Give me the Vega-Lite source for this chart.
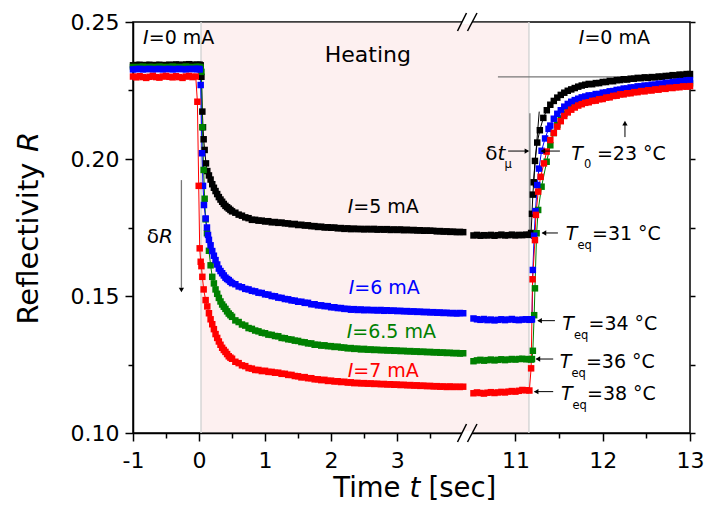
{
"$schema":"https://vega.github.io/schema/vega-lite/v6.json",
"width":557,"height":411,
"autosize":{"type":"none"},
"padding":{"left":133,"top":22,"right":16,"bottom":77},
"background":"white",
"config":{"font":"DejaVu Sans","view":{"stroke":"black","strokeWidth":1.5},
"axis":{"domainColor":"black","tickColor":"black","labelColor":"black","titleColor":"black","grid":false,"labelFont":"DejaVu Sans","titleFont":"DejaVu Sans","domainWidth":1.5,"tickWidth":1.5,"titleFontWeight":"normal","labelFlush":false,"labelOverlap":false,"labelBound":false},
"text":{"font":"DejaVu Sans"}},
"datasets":{
"hatch":[{"t":0.03,"t2":11.155,"R":0.1,"R2":0.25}],
"edges":[{"t":0.03,"t2":0.03,"R":0.1,"R2":0.25},{"t":11.155,"t2":11.155,"R":0.1,"R2":0.25}],
"gray":[{"t":-0.267,"t2":-0.267,"R":0.1923,"R2":0.153},{"t":11.166,"t2":11.166,"R":0.2167,"R2":0.1741},{"t":10.8,"t2":13,"R":0.23,"R2":0.23}],
"black":[{"t":10.917,"t2":11.14,"R":0.2029,"R2":0.2029},{"t":11.3,"t2":11.51,"R":0.2029,"R2":0.2029},{"t":12.255,"t2":12.255,"R":0.208,"R2":0.2125},{"t":11.31,"t2":11.487,"R":0.173,"R2":0.173},{"t":11.26,"t2":11.453,"R":0.141,"R2":0.141},{"t":11.24,"t2":11.433,"R":0.127,"R2":0.127},{"t":11.22,"t2":11.433,"R":0.1151,"R2":0.1151},{"t":11.273,"t2":11.204,"R":0.2173,"R2":0.1899}],
"heads":[{"t":-0.267,"R":0.1522,"dir":"down"},{"t":11.132,"R":0.2029,"dir":"right"},{"t":11.315,"R":0.2029,"dir":"left"},{"t":12.255,"R":0.2131,"dir":"up"},{"t":11.327,"R":0.173,"dir":"left"},{"t":11.277,"R":0.141,"dir":"left"},{"t":11.258,"R":0.127,"dir":"left"},{"t":11.238,"R":0.1151,"dir":"left"}],
"brk":[{"t":4.2,"R":0.25},{"t":4.2,"R":0.1}],
"itR":[{"t":-0.762,"R":0.242,"txt":"I","k":"a"},{"t":11.791,"R":0.242,"txt":"I","k":"a"},{"t":2.336,"R":0.1802,"txt":"I","k":"a"},{"t":2.351,"R":0.1506,"txt":"I","k":"c"},{"t":2.32,"R":0.1348,"txt":"I","k":"b"},{"t":2.336,"R":0.1203,"txt":"I","k":"d"},{"t":11.774,"R":0.1996,"txt":"T","k":"a"},{"t":11.711,"R":0.1704,"txt":"T","k":"a"},{"t":11.671,"R":0.1376,"txt":"T","k":"a"},{"t":11.642,"R":0.1236,"txt":"T","k":"a"},{"t":11.654,"R":0.112,"txt":"T","k":"a"}],
"nL":[{"t":-0.762,"R":0.242,"txt":"=0 mA","k":"a"},{"t":11.791,"R":0.242,"txt":"=0 mA","k":"a"},{"t":2.336,"R":0.1802,"txt":"=5 mA","k":"a"},{"t":2.351,"R":0.1506,"txt":"=6 mA","k":"c"},{"t":2.32,"R":0.1348,"txt":"=6.5 mA","k":"b"},{"t":2.336,"R":0.1203,"txt":"=7 mA","k":"d"},{"t":11.934,"R":0.1996,"txt":"=23 °C","k":"a"},{"t":11.877,"R":0.1704,"txt":"=31 °C","k":"a"},{"t":11.837,"R":0.1376,"txt":"=34 °C","k":"a"},{"t":11.808,"R":0.1236,"txt":"=36 °C","k":"a"},{"t":11.82,"R":0.112,"txt":"=38 °C","k":"a"}],
"sub":[{"t":11.785,"R":0.1966,"txt":"0"},{"t":11.711,"R":0.1671,"txt":"eq"},{"t":11.671,"R":0.1343,"txt":"eq"},{"t":11.642,"R":0.1203,"txt":"eq"},{"t":11.654,"R":0.1088,"txt":"eq"},{"t":10.874,"R":0.1967,"txt":"μ"}],
"nR":[{"t":-0.608,"R":0.1692,"txt":"δ"},{"t":10.794,"R":0.1998,"txt":"δ"}],
"itL":[{"t":-0.608,"R":0.1692,"txt":"R"},{"t":10.794,"R":0.1998,"txt":"t"}],
"heat":[{"t":1.903,"R":0.2354,"txt":"Heating"}],
"series":[
{"t":-1.0,"a":0.2342,"b":0.2336,"c":0.2327,"d":0.2301},
{"t":-0.95,"a":0.2343,"b":0.2335,"c":0.2328,"d":0.2298},
{"t":-0.9,"a":0.2344,"b":0.2336,"c":0.2329,"d":0.2302},
{"t":-0.85,"a":0.2342,"b":0.2337,"c":0.2327,"d":0.2299},
{"t":-0.8,"a":0.2343,"b":0.2335,"c":0.2328,"d":0.2296},
{"t":-0.75,"a":0.2344,"b":0.2336,"c":0.2329,"d":0.23},
{"t":-0.7,"a":0.2342,"b":0.2336,"c":0.2327,"d":0.2303},
{"t":-0.65,"a":0.2343,"b":0.2335,"c":0.2328,"d":0.2299},
{"t":-0.6,"a":0.2344,"b":0.2337,"c":0.2329,"d":0.2297},
{"t":-0.55,"a":0.2342,"b":0.2336,"c":0.2327,"d":0.2301},
{"t":-0.5,"a":0.2343,"b":0.2335,"c":0.2328,"d":0.2303},
{"t":-0.45,"a":0.2344,"b":0.2336,"c":0.2329,"d":0.23},
{"t":-0.4,"a":0.2343,"b":0.2337,"c":0.2327,"d":0.2298},
{"t":-0.35,"a":0.2345,"b":0.2336,"c":0.2328,"d":0.2302},
{"t":-0.3,"a":0.2344,"b":0.2335,"c":0.2329,"d":0.2299},
{"t":-0.25,"a":0.2343,"b":0.2336,"c":0.2328,"d":0.2296},
{"t":-0.2,"a":0.2345,"b":0.2337,"c":0.2327,"d":0.2301},
{"t":-0.15,"a":0.2346,"b":0.2336,"c":0.2329,"d":0.2303},
{"t":-0.1,"a":0.2344,"b":0.2335,"c":0.2328,"d":0.2299},
{"t":-0.05,"a":0.2343,"b":0.2336,"c":0.2329,"d":0.2301},
{"t":-0.025,"a":0.2344,"b":0.2336,"c":0.2328,"d":0.2209},
{"t":-0.005,"a":0.2343,"b":0.2335,"c":0.2329,"d":0.1902},
{"t":0.01,"a":0.2344,"b":0.2336,"c":0.2327,"d":0.1674},
{"t":0.025,"a":0.2342,"b":0.2334,"c":0.227,"d":0.1625},
{"t":0.036,"a":0.23,"b":0.2318,"d":0.1609},
{"t":0.045,"c":0.2021},
{"t":0.05,"a":0.2173,"b":0.2116,"d":0.157},
{"t":0.06,"a":0.2116,"c":0.1902},
{"t":0.07,"a":0.2072,"b":0.196,"d":0.1524},
{"t":0.075,"c":0.1832},
{"t":0.085,"a":0.2033,"b":0.1855},
{"t":0.1,"b":0.178,"c":0.1783,"d":0.1485},
{"t":0.105,"a":0.1984},
{"t":0.12,"b":0.1729,"c":0.175},
{"t":0.125,"a":0.1956,"d":0.1462},
{"t":0.136,"c":0.1723},
{"t":0.15,"a":0.194,"b":0.1665,"c":0.1705,"d":0.1437},
{"t":0.175,"a":0.1925,"b":0.1612,"c":0.1685,"d":0.1415},
{"t":0.2,"a":0.1908,"b":0.157,"c":0.1664,"d":0.1397},
{"t":0.225,"a":0.1895,"b":0.1546,"c":0.1647,"d":0.1379},
{"t":0.25,"a":0.1883,"b":0.1524,"c":0.1631,"d":0.1361},
{"t":0.275,"a":0.1872,"b":0.1508,"c":0.1615,"d":0.1347},
{"t":0.3,"a":0.1861,"b":0.1493,"c":0.16,"d":0.1334},
{"t":0.325,"a":0.1852,"b":0.148,"c":0.1591,"d":0.1322},
{"t":0.35,"a":0.1844,"b":0.1469,"c":0.1583,"d":0.1311},
{"t":0.375,"a":0.1836,"b":0.1461,"c":0.1575,"d":0.1303},
{"t":0.4,"a":0.1829,"b":0.1453,"c":0.1567,"d":0.1296},
{"t":0.425,"a":0.1824,"b":0.1444,"c":0.1562,"d":0.1288},
{"t":0.45,"a":0.1819,"b":0.1436,"c":0.1558,"d":0.128},
{"t":0.475,"a":0.1814,"b":0.143,"c":0.1552,"d":0.1275},
{"t":0.5,"a":0.1809,"b":0.1424,"c":0.1547,"d":0.1271},
{"t":0.55,"a":0.1804,"b":0.1411,"c":0.1543,"d":0.126},
{"t":0.6,"a":0.1797,"b":0.1405,"c":0.1535,"d":0.1255},
{"t":0.65,"a":0.1793,"b":0.1396,"c":0.1532,"d":0.1247},
{"t":0.7,"a":0.1787,"b":0.1392,"c":0.1526,"d":0.1244},
{"t":0.75,"a":0.1784,"b":0.1383,"c":0.1524,"d":0.1237},
{"t":0.8,"a":0.1778,"b":0.138,"c":0.1519,"d":0.1235},
{"t":0.85,"a":0.1778,"b":0.1374,"c":0.1517,"d":0.123},
{"t":0.9,"a":0.1775,"b":0.1371,"c":0.1512,"d":0.123},
{"t":0.95,"a":0.1775,"b":0.1366,"c":0.1511,"d":0.1226},
{"t":1.0,"a":0.1772,"b":0.1364,"c":0.1506,"d":0.1227},
{"t":1.05,"a":0.1773,"b":0.1359,"c":0.1505,"d":0.1223},
{"t":1.1,"a":0.1769,"b":0.1358,"c":0.15,"d":0.1223},
{"t":1.15,"a":0.177,"b":0.1354,"c":0.1499,"d":0.122},
{"t":1.2,"a":0.1767,"b":0.1353,"c":0.1494,"d":0.122},
{"t":1.25,"a":0.1768,"b":0.1347,"c":0.1493,"d":0.1216},
{"t":1.3,"a":0.1765,"b":0.1346,"c":0.1489,"d":0.1216},
{"t":1.35,"a":0.1765,"b":0.1342,"c":0.1488,"d":0.1212},
{"t":1.4,"a":0.1762,"b":0.1341,"c":0.1484,"d":0.1212},
{"t":1.45,"a":0.1763,"b":0.1337,"c":0.1483,"d":0.1208},
{"t":1.5,"a":0.1759,"b":0.1336,"c":0.1479,"d":0.1207},
{"t":1.55,"a":0.176,"b":0.1332,"c":0.1479,"d":0.1203},
{"t":1.6,"a":0.1757,"b":0.1331,"c":0.1475,"d":0.1204},
{"t":1.65,"a":0.1758,"b":0.1327,"c":0.1475,"d":0.12},
{"t":1.7,"a":0.1755,"b":0.1327,"c":0.147,"d":0.12},
{"t":1.75,"a":0.1755,"b":0.1322,"c":0.147,"d":0.1196},
{"t":1.8,"a":0.1752,"b":0.1322,"c":0.1466,"d":0.1196},
{"t":1.85,"a":0.1753,"b":0.1319,"c":0.1466,"d":0.1193},
{"t":1.9,"a":0.175,"b":0.132,"c":0.1463,"d":0.1194},
{"t":1.95,"a":0.1751,"b":0.1317,"c":0.1463,"d":0.119},
{"t":2.0,"a":0.1749,"b":0.1317,"c":0.1459,"d":0.1191},
{"t":2.05,"a":0.175,"b":0.1314,"c":0.1459,"d":0.1188},
{"t":2.1,"a":0.1747,"b":0.1315,"c":0.1456,"d":0.1189},
{"t":2.15,"a":0.1748,"b":0.1312,"c":0.1456,"d":0.1186},
{"t":2.2,"a":0.1745,"b":0.1312,"c":0.1453,"d":0.1187},
{"t":2.25,"a":0.1747,"b":0.1309,"c":0.1453,"d":0.1184},
{"t":2.3,"a":0.1744,"b":0.131,"c":0.145,"d":0.1185},
{"t":2.35,"a":0.1746,"b":0.1307,"c":0.1452,"d":0.1182},
{"t":2.4,"a":0.1744,"b":0.1308,"c":0.1449,"d":0.1183},
{"t":2.45,"a":0.1745,"b":0.1305,"c":0.1451,"d":0.1181},
{"t":2.5,"a":0.1743,"b":0.1307,"c":0.1448,"d":0.1182},
{"t":2.55,"a":0.1745,"b":0.1304,"c":0.145,"d":0.118},
{"t":2.6,"a":0.1743,"b":0.1305,"c":0.1448,"d":0.1181},
{"t":2.65,"a":0.1745,"b":0.1303,"c":0.1449,"d":0.1179},
{"t":2.7,"a":0.1742,"b":0.1304,"c":0.1447,"d":0.118},
{"t":2.75,"a":0.1744,"b":0.1302,"c":0.1449,"d":0.1178},
{"t":2.8,"a":0.1742,"b":0.1303,"c":0.1446,"d":0.1179},
{"t":2.85,"a":0.1744,"b":0.1301,"c":0.1448,"d":0.1177},
{"t":2.9,"a":0.1741,"b":0.1302,"c":0.1446,"d":0.1178},
{"t":2.95,"a":0.1743,"b":0.13,"c":0.1447,"d":0.1176},
{"t":3.0,"a":0.1741,"b":0.1301,"c":0.1445,"d":0.1177},
{"t":3.05,"a":0.1743,"b":0.1299,"c":0.1446,"d":0.1175},
{"t":3.1,"a":0.174,"b":0.13,"c":0.1444,"d":0.1176},
{"t":3.15,"a":0.1742,"b":0.1298,"c":0.1445,"d":0.1174},
{"t":3.2,"a":0.174,"b":0.1299,"c":0.1443,"d":0.1175},
{"t":3.25,"a":0.1741,"b":0.1297,"c":0.1444,"d":0.1173},
{"t":3.3,"a":0.1739,"b":0.1298,"c":0.1442,"d":0.1174},
{"t":3.35,"a":0.174,"b":0.1296,"c":0.1443,"d":0.1172},
{"t":3.4,"a":0.1738,"b":0.1297,"c":0.1441,"d":0.1173},
{"t":3.45,"a":0.1739,"b":0.1295,"c":0.1442,"d":0.1171},
{"t":3.5,"a":0.1738,"b":0.1296,"c":0.144,"d":0.1172},
{"t":3.55,"a":0.1738,"b":0.1294,"c":0.1441,"d":0.117},
{"t":3.6,"a":0.1736,"b":0.1295,"c":0.1439,"d":0.1171},
{"t":3.65,"a":0.1737,"b":0.1293,"c":0.144,"d":0.1169},
{"t":3.7,"a":0.1735,"b":0.1294,"c":0.1438,"d":0.117},
{"t":3.75,"a":0.1736,"b":0.1292,"c":0.1439,"d":0.1168},
{"t":3.8,"a":0.1734,"b":0.1293,"c":0.1437,"d":0.117},
{"t":3.85,"a":0.1735,"b":0.1291,"c":0.1438,"d":0.1168},
{"t":3.9,"a":0.1733,"b":0.1292,"c":0.1436,"d":0.1169},
{"t":3.95,"a":0.1734,"b":0.129,"c":0.1438,"d":0.1168},
{"t":4.0,"a":0.1733,"b":0.1291,"c":0.1437,"d":0.1169},
{"t":10.52,"a":0.1721,"b":0.1262,"c":0.1418,"d":0.1145},
{"t":10.56,"a":0.1723,"b":0.1265,"c":0.1415,"d":0.1148},
{"t":10.6,"a":0.172,"b":0.1267,"c":0.1413,"d":0.1146},
{"t":10.64,"a":0.1722,"b":0.1264,"c":0.1416,"d":0.1144},
{"t":10.68,"a":0.1721,"b":0.1266,"c":0.1412,"d":0.1147},
{"t":10.72,"a":0.1723,"b":0.1268,"c":0.1414,"d":0.1149},
{"t":10.76,"a":0.172,"b":0.1265,"c":0.1411,"d":0.1146},
{"t":10.8,"a":0.1722,"b":0.1267,"c":0.1413,"d":0.1148},
{"t":10.84,"a":0.1724,"b":0.1269,"c":0.1415,"d":0.115},
{"t":10.88,"a":0.1721,"b":0.1266,"c":0.1412,"d":0.1148},
{"t":10.92,"a":0.1722,"b":0.1268,"c":0.1414,"d":0.1151},
{"t":10.96,"a":0.1724,"b":0.127,"c":0.1416,"d":0.1153},
{"t":11.0,"a":0.1721,"b":0.1268,"c":0.1413,"d":0.1151},
{"t":11.04,"a":0.1723,"b":0.127,"c":0.1412,"d":0.1154},
{"t":11.08,"a":0.1722,"b":0.1271,"c":0.1414,"d":0.1157},
{"t":11.12,"a":0.1724,"b":0.1269,"c":0.1415,"d":0.1156},
{"t":11.16,"a":0.1723,"b":0.127,"c":0.1413,"d":0.1155},
{"t":11.18,"a":0.173,"b":0.1268,"c":0.1414,"d":0.1236},
{"t":11.19,"a":0.18,"b":0.127,"c":0.1415},
{"t":11.197,"d":0.1561},
{"t":11.2,"a":0.187,"b":0.13,"c":0.1595},
{"t":11.21,"a":0.1915},
{"t":11.215,"b":0.143,"c":0.172},
{"t":11.224,"a":0.1993,"b":0.1528,"d":0.1704},
{"t":11.23,"c":0.181},
{"t":11.235,"d":0.1796},
{"t":11.243,"b":0.1729},
{"t":11.25,"a":0.206,"c":0.1905},
{"t":11.261,"b":0.1814,"d":0.1881},
{"t":11.27,"c":0.1965},
{"t":11.28,"a":0.2105},
{"t":11.289,"d":0.1935},
{"t":11.3,"b":0.1899,"c":0.203},
{"t":11.32,"a":0.215},
{"t":11.327,"d":0.1984},
{"t":11.34,"c":0.2075},
{"t":11.358,"b":0.199,"d":0.2027},
{"t":11.36,"a":0.2178},
{"t":11.38,"c":0.211},
{"t":11.4,"a":0.2198,"b":0.205,"c":0.2122,"d":0.2069},
{"t":11.44,"a":0.2212,"b":0.2095,"c":0.2147,"d":0.2095},
{"t":11.48,"a":0.2224,"b":0.2125,"c":0.2165,"d":0.2118},
{"t":11.52,"a":0.2234,"b":0.2148,"c":0.2178,"d":0.2138},
{"t":11.56,"a":0.2242,"b":0.2165,"c":0.2191,"d":0.2157},
{"t":11.6,"a":0.2249,"b":0.218,"c":0.2201,"d":0.217},
{"t":11.64,"a":0.2254,"b":0.219,"c":0.2209,"d":0.218},
{"t":11.68,"a":0.2259,"b":0.2198,"c":0.2215,"d":0.2188},
{"t":11.72,"a":0.2264,"b":0.2204,"c":0.222,"d":0.2195},
{"t":11.76,"a":0.2268,"b":0.2208,"c":0.2225,"d":0.22},
{"t":11.8,"a":0.2271,"b":0.2211,"c":0.2228,"d":0.2205},
{"t":11.84,"a":0.2274,"b":0.2214,"c":0.2232,"d":0.2207},
{"t":11.88,"a":0.2273,"b":0.2219,"c":0.2232,"d":0.2212},
{"t":11.92,"a":0.2277,"b":0.222,"c":0.2237,"d":0.2213},
{"t":11.96,"a":0.2277,"b":0.2226,"c":0.2237,"d":0.2218},
{"t":12.0,"a":0.2281,"b":0.2227,"c":0.2242,"d":0.2219},
{"t":12.04,"a":0.2281,"b":0.2231,"c":0.2243,"d":0.2224},
{"t":12.08,"a":0.2285,"b":0.2232,"c":0.2247,"d":0.2225},
{"t":12.12,"a":0.2284,"b":0.2236,"c":0.2248,"d":0.223},
{"t":12.16,"a":0.2288,"b":0.2237,"c":0.2252,"d":0.2231},
{"t":12.2,"a":0.2288,"b":0.2241,"c":0.2253,"d":0.2236},
{"t":12.24,"a":0.2291,"b":0.2241,"c":0.2257,"d":0.2236},
{"t":12.28,"a":0.229,"b":0.2245,"c":0.2257,"d":0.224},
{"t":12.32,"a":0.2293,"b":0.2245,"c":0.2261,"d":0.224},
{"t":12.36,"a":0.2293,"b":0.2249,"c":0.2261,"d":0.2244},
{"t":12.4,"a":0.2296,"b":0.2249,"c":0.2265,"d":0.2244},
{"t":12.44,"a":0.2295,"b":0.2253,"c":0.2265,"d":0.2248},
{"t":12.48,"a":0.2298,"b":0.2253,"c":0.2268,"d":0.2247},
{"t":12.52,"a":0.2296,"b":0.2256,"c":0.2268,"d":0.2251},
{"t":12.56,"a":0.2299,"b":0.2256,"c":0.2271,"d":0.225},
{"t":12.6,"a":0.2298,"b":0.226,"c":0.2271,"d":0.2254},
{"t":12.64,"a":0.2301,"b":0.226,"c":0.2275,"d":0.2253},
{"t":12.68,"a":0.23,"b":0.2264,"c":0.2274,"d":0.2257},
{"t":12.72,"a":0.2303,"b":0.2263,"c":0.2278,"d":0.2256},
{"t":12.76,"a":0.2303,"b":0.2267,"c":0.2277,"d":0.226},
{"t":12.8,"a":0.2306,"b":0.2267,"c":0.2281,"d":0.2259},
{"t":12.84,"a":0.2305,"b":0.2271,"c":0.2281,"d":0.2262},
{"t":12.88,"a":0.2308,"b":0.227,"c":0.2284,"d":0.2262},
{"t":12.92,"a":0.2307,"b":0.2274,"c":0.2284,"d":0.2265},
{"t":12.96,"a":0.231,"b":0.2273,"c":0.2287,"d":0.2264},
{"t":13.0,"a":0.231,"b":0.2276,"c":0.2288,"d":0.2266}
]},
"encoding":{
"x":{"field":"t","type":"quantitative","scale":{"domain":[-1,4.05,10.44,13],"range":[0,333.5,333.5,557],"nice":false,"zero":false},"axis":null},
"y":{"field":"R","type":"quantitative","scale":{"domain":[0.1,0.25],"nice":false,"zero":false},"axis":null}
},
"layer":[
{"data":{"name":"hatch"},"mark":{"type":"rect","fill":"#fdf0f0","yOffset":-0.75,"y2Offset":0.75},
"encoding":{
"x":{"field":"t","type":"quantitative","axis":{"orient":"bottom","values":[-1,0,1,2,3,11,12,13],"labelExpr":"replace(datum.label,'\u2212','-')","tickSize":8,"labelPadding":9,"labelFontSize":22,"title":"Time","titleFontSize":27.5,"titleX":267,"titleY":63,"titleAlign":"right","titleBaseline":"alphabetic","titleAngle":0}},
"x2":{"field":"t2"},
"y":{"field":"R","type":"quantitative","axis":{"orient":"left","values":[0.1,0.15,0.2,0.25],"format":".2f","tickSize":8,"labelPadding":6,"labelFontSize":22,"title":"Reflectivity","titleFontSize":29,"titleAngle":-90,"titleX":-96,"titleY":302,"titleAlign":"left","titleBaseline":"alphabetic"}},
"y2":{"field":"R2"}}},
{"data":{"name":"hatch"},"mark":{"type":"rect","opacity":0},
"encoding":{
"x":{"field":"t","type":"quantitative","axis":{"orient":"bottom","values":[-0.5,0.5,1.5,2.5,3.5,11.5,12.5],"tickSize":5,"labels":false,"domain":false,"title":"t","titleFontStyle":"italic","titleFontSize":27.5,"titleX":276,"titleY":63,"titleAlign":"left","titleBaseline":"alphabetic","titleAngle":0}},
"x2":{"field":"t2"},
"y":{"field":"R","type":"quantitative","axis":{"orient":"left","values":[0.125,0.175,0.225],"tickSize":5,"labels":false,"domain":false,"title":"R","titleFontStyle":"italic","titleFontSize":29,"titleAngle":-90,"titleX":-96,"titleY":129.6,"titleAlign":"left","titleBaseline":"alphabetic"}},
"y2":{"field":"R2"}}},
{"data":{"name":"hatch"},"mark":{"type":"rect","opacity":0},
"encoding":{
"x":{"field":"t","type":"quantitative","axis":{"orient":"bottom","ticks":false,"labels":false,"domain":false,"title":"[sec]","titleFontSize":27.5,"titleX":295,"titleY":63,"titleAlign":"left","titleBaseline":"alphabetic","titleAngle":0}},
"x2":{"field":"t2"},
"y":{"field":"R","type":"quantitative","axis":{"orient":"right","values":[0.1,0.125,0.15,0.175,0.2,0.225,0.25],"tickSize":5,"labels":false,"domain":false,"title":null}},
"y2":{"field":"R2"}}},
{"data":{"name":"edges"},"mark":{"type":"rule","color":"#d6d6d6","strokeWidth":1.5},
"encoding":{"x2":{"field":"t2"},"y2":{"field":"R2"}}},
{"data":{"name":"gray"},"mark":{"type":"rule","color":"#777777","strokeWidth":1.3},
"encoding":{"x2":{"field":"t2"},"y2":{"field":"R2"}}},
{"data":{"name":"series"},"transform":[{"fold":["a","b","c","d"],"as":["s","R"]},{"filter":"isValid(datum.R)"},{"filter":"datum.t < 7"}],
"mark":{"type":"line","strokeWidth":1},
"encoding":{"color":{"field":"s","type":"nominal","scale":{"domain":["a","b","c","d"],"range":["#000000","#008000","#0000ff","#ff0000"]},"legend":null}}},
{"data":{"name":"series"},"transform":[{"fold":["a","b","c","d"],"as":["s","R"]},{"filter":"isValid(datum.R)"},{"filter":"datum.t > 7"}],
"mark":{"type":"line","strokeWidth":1},
"encoding":{"color":{"field":"s","type":"nominal","legend":null}}},
{"data":{"name":"series"},"transform":[{"fold":["a","b","c","d"],"as":["s","R"]},{"filter":"isValid(datum.R)"}],
"mark":{"type":"point","shape":"square","filled":true,"size":42,"opacity":1},
"encoding":{"color":{"field":"s","type":"nominal","legend":null},"order":{"field":"s","type":"nominal"}}},
{"data":{"name":"black"},"mark":{"type":"rule","color":"black","strokeWidth":1},
"encoding":{"x2":{"field":"t2"},"y2":{"field":"R2"}}},
{"data":{"name":"heads"},"mark":{"type":"point","filled":true,"size":28,"color":"black","opacity":1},
"encoding":{"shape":{"field":"dir","type":"nominal","scale":{"domain":["up","down","left","right"],"range":["triangle-up","triangle-down","triangle-left","triangle-right"]},"legend":null}}},
{"data":{"name":"itR"},"mark":{"type":"text","font":"DejaVu Sans","fontStyle":"italic","fontSize":19,"align":"right","baseline":"alphabetic"},
"encoding":{"text":{"field":"txt"},"color":{"field":"k","type":"nominal","legend":null}}},
{"data":{"name":"nL"},"mark":{"type":"text","font":"DejaVu Sans","fontSize":19,"align":"left","baseline":"alphabetic"},
"encoding":{"text":{"field":"txt"},"color":{"field":"k","type":"nominal","legend":null}}},
{"data":{"name":"sub"},"mark":{"type":"text","font":"DejaVu Sans","fontSize":11.5,"align":"left","baseline":"alphabetic","color":"black"},
"encoding":{"text":{"field":"txt"}}},
{"data":{"name":"nR"},"mark":{"type":"text","font":"DejaVu Sans","fontSize":20,"align":"right","baseline":"alphabetic","color":"black"},
"encoding":{"text":{"field":"txt"}}},
{"data":{"name":"itL"},"mark":{"type":"text","font":"DejaVu Sans","fontStyle":"italic","fontSize":20,"align":"left","baseline":"alphabetic","color":"black"},
"encoding":{"text":{"field":"txt"}}},
{"data":{"name":"heat"},"mark":{"type":"text","font":"DejaVu Sans","fontSize":22,"align":"left","baseline":"alphabetic","color":"black"},
"encoding":{"text":{"field":"txt"}}},
{"data":{"name":"brk"},"mark":{"type":"rule","color":"white","strokeWidth":4,"xOffset":-4.5,"x2Offset":5.5},
"encoding":{"x2":{"field":"t"}}},
{"data":{"name":"brk"},"mark":{"type":"rule","color":"black","strokeWidth":1.5,"xOffset":-9,"x2Offset":0,"yOffset":9,"y2Offset":-9},
"encoding":{"x2":{"field":"t"},"y2":{"field":"R"}}},
{"data":{"name":"brk"},"mark":{"type":"rule","color":"black","strokeWidth":1.5,"xOffset":1,"x2Offset":10.5,"yOffset":9,"y2Offset":-9},
"encoding":{"x2":{"field":"t"},"y2":{"field":"R"}}}
],
"resolve":{"axis":{"x":"independent","y":"independent"}}
}
